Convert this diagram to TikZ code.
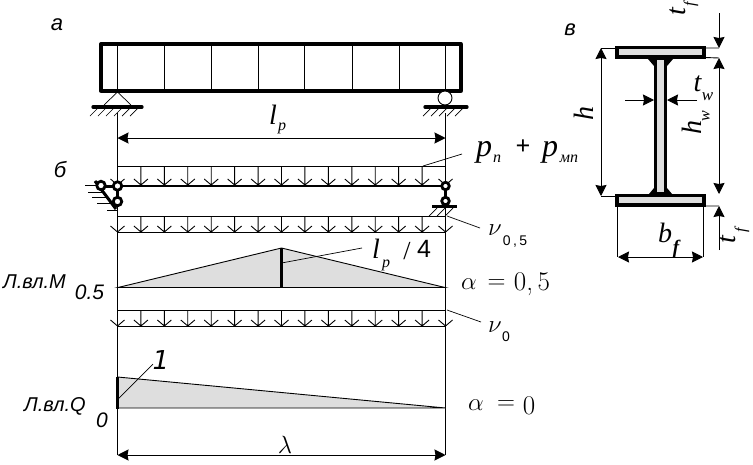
\documentclass[tikz,border=0pt]{standalone}
\usepackage{fontspec}
\newfontfamily\ser{Liberation Serif}
\newfontfamily\san{Liberation Sans}
\newfontfamily\dej{DejaVu Sans}
\usetikzlibrary{arrows.meta}
\newcommand{\fs}[1]{\fontsize{#1}{#1}\selectfont}
\newcommand{\loadrow}[2]{%
  \draw[thin line] (117.5,#1) -- (445.5,#1);
  \foreach \i in {0,...,14} {
    \pgfmathsetmacro{\xx}{117.5+23.43*\i}
    \draw[thin line] (\xx,#1) -- (\xx,#2) (\xx-7,#2-6) -- (\xx,#2) -- (\xx+7,#2-6);
  }}
\newcommand{\hatches}[3]{% x from, x to, y
  \pgfmathtruncatemacro{\hnext}{#1+8}
  \foreach \hx in {#1,\hnext,...,#2} \draw[hair line] (\hx,#3+8) -- (\hx+8,#3);}
\tikzset{
  thin line/.style={line width=0.9pt,draw=black},
  hair line/.style={line width=0.7pt,draw=black},
  thick line/.style={line width=3.3pt,draw=black},
  dimline/.style={line width=0.9pt,draw=black},
  dimarrow/.style={dimline,{Stealth[length=11pt,width=11pt,inset=1pt]}-{Stealth[length=11pt,width=11pt,inset=1pt]}},
  onearrow/.style={dimline,-{Stealth[length=11pt,width=11pt,inset=1pt]}},
  infl/.style={fill=black!13,draw=black,line width=0.9pt},
  hinge/.style={circle,draw=black,fill=white,line width=2.8pt,minimum size=8.5pt,inner sep=0pt},
  lab/.style={inner sep=0pt,font=\ser\itshape\fs{28}},
  biglab/.style={inner sep=0pt,font=\ser\itshape\fs{32}},
  sublab/.style={inner sep=0pt,font=\ser\itshape\fs{16}},
  sanlab/.style={inner sep=0pt,font=\san\itshape\fs{20}},
  letterlab/.style={inner sep=0pt,font=\san\itshape\fs{22}},
  mathlab/.style={inner sep=0pt,font=\fs{27}}
}
\begin{document}
\begin{tikzpicture}[x=1pt,y=-1pt]
\useasboundingbox (0,0) rectangle (753,464);
% verticals
\coordinate (LT) at (117.5,113); \coordinate (LB) at (117.5,455);
\coordinate (RT) at (445.5,113); \coordinate (RB) at (445.5,455);
\draw[thin line] (LT) -- (LB);
\draw[thin line] (RT) -- (RB);
% letters
\node[letterlab] (la) at (57,25) {а};
\node[letterlab] (lb) at (60,170) {б};
\node[letterlab] (lv) at (570,30) {в};
% beam a
\foreach \x in {117.5,164.5,211.5,258.5,304.5,352,399,445.5} \draw[thin line] (\x,44) -- (\x,91);
\draw[thick line,line join=round] (101,44) rectangle (461,91);
% support left
\draw[hair line] (104,105) -- (117.5,92) -- (131,105);
\draw[thick line,line cap=round] (93,107) -- (142,107);
\hatches{90}{134}{108}
% support right
\node[circle,draw=black,fill=white,line width=0.9pt,minimum size=14pt,inner sep=0pt] (roll) at (445,98) {};
\draw[thick line,line cap=round] (425,107) -- (467,107);
\hatches{423}{460}{108}
% l_p
\coordinate (lp1) at (117.5,138); \coordinate (lp2) at (445.5,138);
\draw[dimarrow] (lp1) -- (lp2);
\node[lab] (lpl) at (273,115) {l};
\node[sublab] (lps) at (282,128) {p};
% load 1
\loadrow{166}{185}
\draw[line width=2.2pt] (117.5,186) -- (445.5,186);
\coordinate (pl1) at (423,166); \coordinate (pl2) at (462,154);
\draw[hair line] (pl1) -- (pl2);
\node[biglab] at (484,152) {p};
\node[sublab] at (497,159) {n};
\node[inner sep=0pt,font=\ser\bfseries\fs{26}] at (523,147) {+};
\node[biglab] at (550,152) {p};
\node[sublab] at (569,159) {мп};
% left supports b
\draw[hair line] (85,185) -- (100,185) (88,192) -- (103,192) (92,197) -- (106,197) (97,203) -- (110,203) (107,210) -- (117,210);
\draw[line width=3pt] (102,186) -- (117.5,186) -- (117.5,201);
\draw[line width=3pt] (95,181) -- (116,209);
\node[hinge] (h1) at (101,185.5) {};
\node[hinge] (h2) at (117.5,186) {};
\node[hinge] (h3) at (117.5,201.5) {};
\draw[line width=2.4pt] (445.5,186) -- (445.5,201);
\node[hinge,minimum size=7.5pt] (h4) at (445.5,186) {};
\node[hinge,minimum size=7.5pt] (h5) at (445.5,201) {};
\draw[thick line] (432,206.5) -- (457,206.5);
\hatches{429}{450}{208}
% load 2
\loadrow{216}{232}
\draw[thin line] (117.5,232.5) -- (445.5,232.5);
\coordinate (nu1) at (447,216); \coordinate (nu2) at (480,228);
\draw[hair line] (nu1) -- (nu2);
\node[inner sep=0pt,font=\fs{32}] at (495,230.5) {$\nu$};
\node[inner sep=0pt,font=\san\fs{14}] at (515,242) {0\,,\,5};
% moment line
\path[infl] (118,287.5) -- (281.5,248) -- (445,287.5) -- cycle;
\draw[line width=2.6pt] (281.5,248) -- (281.5,288);
\coordinate (m1) at (281.5,263); \coordinate (m2) at (362,248);
\draw[hair line] (m1) -- (m2);
\node[lab] at (376,249) {l};
\node[sublab] at (386,265) {p};
\node[inner sep=0pt,font=\ser\fs{26}] at (407,251) {/};
\node[inner sep=0pt,font=\san\fs{25}] at (424,249) {4};
\node[inner sep=0pt,font=\fs{32}] at (469,284.5) {$\alpha$};
\node[mathlab] at (496.5,284) {$=$};
\node[mathlab] at (532,284.5) {0,\,5};
\node[sanlab,anchor=west] at (3,282) {Л.вл.М};
\node[inner sep=0pt,font=\san\itshape\fs{21}] at (89.5,292) {0.5};
% load 3
\loadrow{310}{326}
\draw[thin line] (117.5,326.5) -- (445.5,326.5);
\coordinate (n01) at (447,310); \coordinate (n02) at (481,322);
\draw[hair line] (n01) -- (n02);
\node[inner sep=0pt,font=\fs{32}] at (495,327) {$\nu$};
\node[inner sep=0pt,font=\san\fs{14}] at (506,337) {0};
% shear line
\path[infl] (117.5,377) -- (445.5,408) -- (117.5,408) -- cycle;
\draw[line width=2.6pt] (117.5,377) -- (117.5,409);
\coordinate (q1) at (118,399); \coordinate (q2) at (153,364);
\draw[hair line] (q1) -- (q2);
\node[inner sep=0pt,font=\dej\itshape\fs{26}] at (161,360) {1};
\node[sanlab,anchor=west] at (24,406) {Л.вл.Q};
\node[inner sep=0pt,font=\san\itshape\fs{21}] at (102,420) {0};
\node[inner sep=0pt,font=\fs{27}] at (476,405.5) {$\alpha$};
\node[mathlab] at (506,405) {$=$};
\node[mathlab] at (529,405.5) {0};
% lambda
\coordinate (la1) at (117.5,455); \coordinate (la2) at (445.5,455);
\draw[dimarrow] (la1) -- (la2);
\node[inner sep=0pt,font=\fs{28}] at (285,445) {$\lambda$};
% I-beam
\fill (648,59) -- (654,66) -- (667,66) -- (673,59) -- cycle;
\fill (649,194) -- (654,188) -- (667,188) -- (672,194) -- cycle;
\draw[thick line,fill=black!13] (655.5,58) rectangle (665.5,194);
\draw[thick line,fill=black!13] (617,47.5) rectangle (704,57);
\draw[thick line,fill=black!13] (617,195.5) rectangle (704,205);
% dims
\coordinate (ha) at (601,48); \coordinate (hb) at (601,196);
\draw[dimline] (616,48) -- (ha) (616,196) -- (hb);
\draw[dimarrow] (ha) -- (hb);
\node[lab,rotate=90] at (584,113) {h};
\coordinate (wa) at (719,58); \coordinate (wb) at (719,194);
\draw[dimline] (705,57.5) -- (wa) (705,48) -- (719,48) (705,206) -- (719,206);
\draw[dimarrow] (wa) -- (wb);
\node[lab,rotate=90] at (692,127) {h};
\node[sublab,rotate=90] at (706,116) {w};
\coordinate (tt) at (719,13); \coordinate (tte) at (719,48);
\draw[onearrow] (tt) -- (tte);
\coordinate (tb) at (719,250); \coordinate (tbe) at (719,206);
\draw[onearrow] (tb) -- (tbe);
\node[lab,rotate=90] at (678,12) {t};
\node[sublab,rotate=90] at (691,4) {f};
\node[lab,rotate=90] at (728,240) {t};
\node[sublab,rotate=90] at (742,230) {f};
\coordinate (ba) at (618,257); \coordinate (bb) at (703,257);
\draw[dimline] (617.5,206) -- (617.5,257) (703,206) -- (703,257);
\draw[dimarrow] (ba) -- (bb);
\node[lab] at (665,233) {b};
\node[inner sep=0pt,font=\ser\itshape\bfseries\fs{19}] at (676,249) {f};
\coordinate (twa) at (625,100); \coordinate (twb) at (654,100);
\coordinate (twc) at (697,100); \coordinate (twd) at (667,100);
\draw[onearrow] (twa) -- (twb);
\draw[onearrow] (twc) -- (twd);
\node[lab] at (697.5,84) {t};
\node[inner sep=0pt,font=\ser\itshape\fs{17}] at (707.5,97) {w};
\end{tikzpicture}
\end{document}
